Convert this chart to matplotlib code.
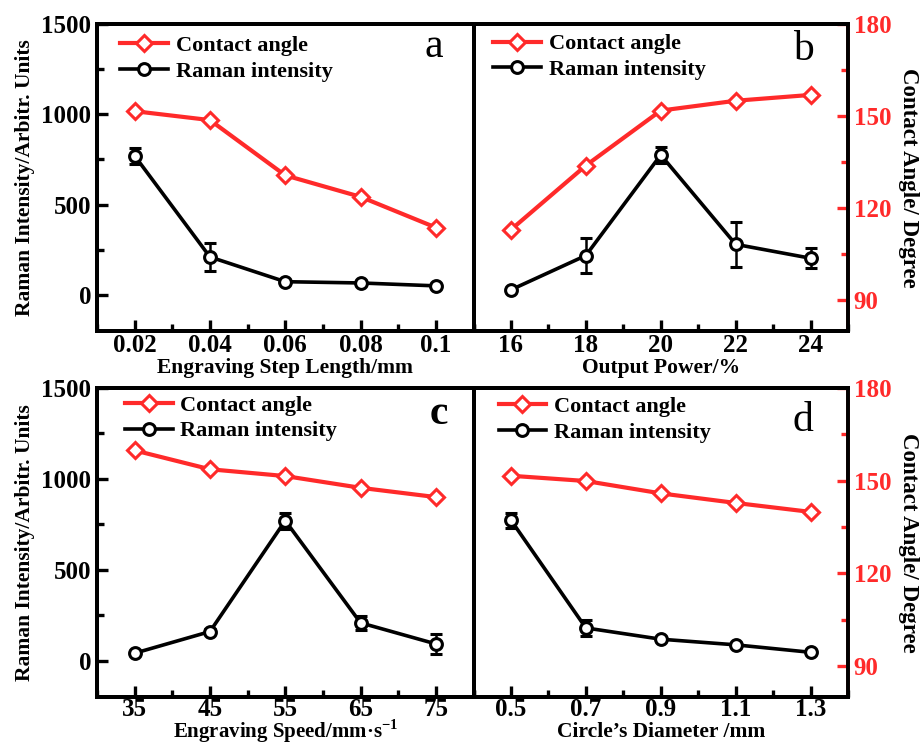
import matplotlib
matplotlib.use("Agg")
import matplotlib.pyplot as plt
from matplotlib.lines import Line2D
from matplotlib.ticker import MultipleLocator

plt.rcParams['font.family'] = ['Liberation Serif', 'DejaVu Serif']
plt.rcParams['font.weight'] = 'bold'
plt.rcParams['mathtext.fontset'] = 'custom'
plt.rcParams['mathtext.rm'] = 'Liberation Serif:bold'
plt.rcParams['mathtext.bf'] = 'Liberation Serif:bold'
plt.rcParams['axes.unicode_minus'] = False

# ---- data ----
x_a = [0.02, 0.04, 0.06, 0.08, 0.1]
raman_a = [770, 210, 73, 66, 50]
raman_err_a = [45, 80, 10, 10, 10]
angle_a = [151.6, 148.7, 130.7, 123.7, 113.7]

x_b = [16, 18, 20, 22, 24]
raman_b = [28, 218, 775, 280, 203]
raman_err_b = [10, 96, 46, 125, 55]
angle_b = [113.0, 133.9, 151.8, 155.0, 156.9]

x_c = [35, 45, 55, 65, 75]
raman_c = [41, 160, 770, 208, 92]
raman_err_c = [10, 15, 43, 40, 55]
angle_c = [159.8, 153.7, 151.5, 147.7, 144.7]

x_d = [0.5, 0.7, 0.9, 1.1, 1.3]
raman_d = [773, 180, 118, 87, 46]
raman_err_d = [42, 45, 10, 10, 10]
angle_d = [151.6, 149.9, 145.9, 142.8, 139.9]

xticks_a = [0.02, 0.04, 0.06, 0.08, 0.1]
xticklabels_a = ['0.02', '0.04', '0.06', '0.08', '0.1']
xticks_b = [16, 18, 20, 22, 24]
xticks_c = [35, 45, 55, 65, 75]
xticks_d = [0.5, 0.7, 0.9, 1.1, 1.3]
xticklabels_d = ['0.5', '0.7', '0.9', '1.1', '1.3']
raman_ticks = [0, 500, 1000, 1500]
angle_ticks = [90, 120, 150, 180]

RED = '#ff2a2a'
W, H = 921, 745
fig = plt.figure(figsize=(W / 100, H / 100), dpi=100)

L, M, R = 97 / W, 473.5 / W, 848 / W
rows = [(1 - 331 / H, 1 - 24 / H), (1 - 697 / H, 1 - 388 / H)]

panels = [
    dict(x=x_a, r=raman_a, e=raman_err_a, c=angle_a, xt=xticks_a, xtl=xticklabels_a,
         xlim=(0.01, 0.11), minor=0.01, xlabel='Engraving Step Length/mm', letter='a',
         col=0, row=0, lw='normal', leg=(0.061, 0.962), let=(0.894, 0.925), xly=-0.12, tp=2, xfs=15.5),
    dict(x=x_b, r=raman_b, e=raman_err_b, c=angle_b, xt=xticks_b, xtl=[str(v) for v in xticks_b],
         xlim=(15, 25), minor=1, xlabel='Output Power/%', letter='b', col=1, row=0,
         lw='normal', leg=(0.053, 0.968), let=(0.88, 0.915), xly=-0.12, tp=2, xfs=15.5),
    dict(x=x_c, r=raman_c, e=raman_err_c, c=angle_c, xt=xticks_c, xtl=[str(v) for v in xticks_c],
         xlim=(30, 80), minor=5, xlabel='Engraving Speed/mm\u00b7s$^{-1}$', letter='c',
         col=0, row=1, lw='bold', leg=(0.074, 0.977), let=(0.907, 0.915), xly=-0.112, tp=0.5, xfs=15),
    dict(x=x_d, r=raman_d, e=raman_err_d, c=angle_d, xt=xticks_d, xtl=xticklabels_d,
         xlim=(0.4, 1.4), minor=0.1, xlabel='Circle\u2019s Diameter /mm', letter='d',
         col=1, row=1, lw='normal', leg=(0.067, 0.972), let=(0.88, 0.895), xly=-0.114, tp=0.5, xfs=15.5),
]

for p in panels:
    x0 = L if p['col'] == 0 else M
    x1 = M if p['col'] == 0 else R
    b, t = rows[p['row']]
    ax = fig.add_axes([x0, b, x1 - x0, t - b])
    ax2 = ax.twinx()
    ax.set_zorder(ax2.get_zorder() + 1)
    ax.patch.set_visible(False)

    ax.set_xlim(*p['xlim'])
    ax.set_ylim(-200, 1500)
    ax2.set_ylim(80, 180)

    ax2.plot(p['x'], p['c'], color=RED, lw=3.0, marker='D', ms=8.5, mfc='white',
             mec=RED, mew=2.2, zorder=3)
    ax.errorbar(p['x'], p['r'], yerr=p['e'], color='black', lw=2.6, marker='o', ms=8.5,
                mfc='white', mec='black', mew=2.2, capsize=4, capthick=1.8, elinewidth=1.8,
                zorder=4)

    for sp in list(ax.spines.values()) + list(ax2.spines.values()):
        sp.set_linewidth(2.8)

    ax.set_xticks(p['xt'])
    ax.set_xticklabels(p['xtl'])
    ax.xaxis.set_minor_locator(MultipleLocator(p['minor']))
    ax.tick_params(axis='x', which='major', direction='in', length=8, width=2.4,
                   labelsize=18, pad=p['tp'], top=False)
    ax.tick_params(axis='x', which='minor', direction='in', length=5, width=2.4, top=False)
    ax.set_xlabel(p['xlabel'], fontsize=p['xfs'], fontweight='bold', va='center')
    ax.xaxis.set_label_coords(0.5, p['xly'])

    if p['col'] == 0:
        ax.set_yticks(raman_ticks)
        ax.yaxis.set_minor_locator(MultipleLocator(250))
        ax.tick_params(axis='y', which='major', direction='in', length=8, width=2.4,
                       labelsize=18, pad=4)
        ax.tick_params(axis='y', which='minor', direction='in', length=5, width=2.4)
        ax.set_ylabel('Raman Intensity/Arbitr. Units', fontsize=15.5, fontweight='bold', labelpad=5)
        ax2.set_yticks([])
        ax2.tick_params(axis='y', which='both', right=False, labelright=False)
    else:
        ax.set_yticks([])
        ax.tick_params(axis='y', which='both', left=False, labelleft=False)
        ax2.spines['right'].set_color(RED)
        ax2.set_yticks(angle_ticks)
        ax2.yaxis.set_minor_locator(MultipleLocator(15))
        ax2.tick_params(axis='y', which='major', direction='in', length=8, width=2.4,
                        labelsize=18, colors=RED, pad=4)
        ax2.tick_params(axis='y', which='minor', direction='in', length=5, width=2.4, colors=RED)
        ax2.set_ylabel('Contact Angle/ Degree', fontsize=16.5, fontweight='bold',
                       rotation=270, labelpad=20, color='black')

    for lab in ax.get_xticklabels() + ax.get_yticklabels() + ax2.get_yticklabels():
        lab.set_fontweight('bold')

    handles = [
        Line2D([], [], color=RED, lw=3.0, marker='D', ms=8.5, mfc='white', mec=RED, mew=2.2),
        Line2D([], [], color='black', lw=2.6, marker='o', ms=8.5, mfc='white', mec='black', mew=2.2),
    ]
    leg = ax.legend(handles, ['Contact angle', 'Raman intensity'], loc='upper left',
                    frameon=False, fontsize=16, handlelength=2.15, handletextpad=0.35,
                    labelspacing=0.23, borderaxespad=0, borderpad=0,
                    bbox_to_anchor=p['leg'])
    for txt in leg.get_texts():
        txt.set_fontweight('bold')

    ax.text(p['let'][0], p['let'][1], p['letter'], transform=ax.transAxes, fontsize=30,
            fontweight=p['lw'], ha='center', va='center')

fig.savefig('out.png', dpi=100)
